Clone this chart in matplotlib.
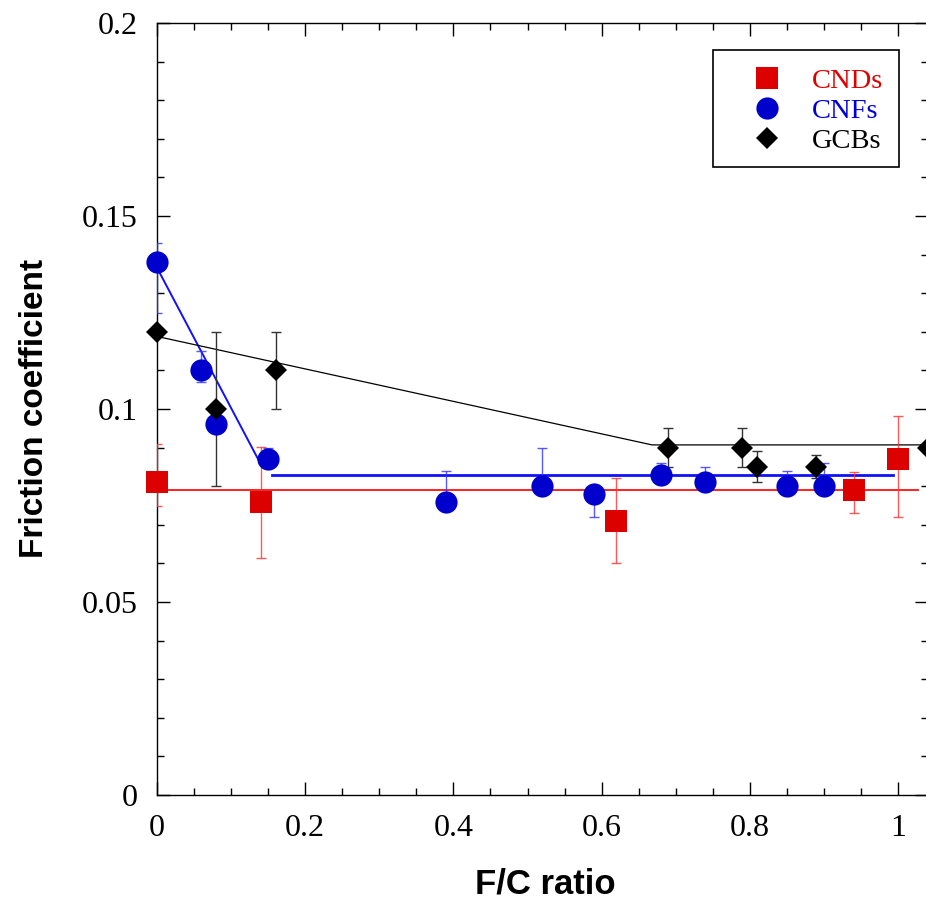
import matplotlib
matplotlib.use("Agg")
import matplotlib.pyplot as plt
from matplotlib.patches import Rectangle
from matplotlib.ticker import MultipleLocator, FuncFormatter

# --- data ---
cnd_x = [0.0, 0.14, 0.62, 0.94, 1.0]
cnd_y = [0.081, 0.076, 0.071, 0.079, 0.087]
cnd_lo = [0.006, 0.0145, 0.011, 0.006, 0.015]
cnd_hi = [0.010, 0.0142, 0.011, 0.0046, 0.0112]

cnf_x = [0.0, 0.06, 0.08, 0.15, 0.39, 0.52, 0.59, 0.68, 0.74, 0.85, 0.90]
cnf_y = [0.138, 0.110, 0.096, 0.087, 0.076, 0.080, 0.078, 0.083, 0.081, 0.080, 0.080]
cnf_lo = [0.013, 0.003, 0.0, 0.0, 0.0, 0.0, 0.006, 0.0, 0.0, 0.0, 0.0]
cnf_hi = [0.005, 0.005, 0.0, 0.003, 0.008, 0.010, 0.0, 0.003, 0.004, 0.004, 0.006]

gcb_x = [0.0, 0.08, 0.16, 0.69, 0.79, 0.81, 0.89, 1.04]
gcb_y = [0.120, 0.100, 0.110, 0.090, 0.090, 0.085, 0.085, 0.090]
gcb_err = [0.0, 0.020, 0.010, 0.005, 0.005, 0.004, 0.003, 0.0]

# fitted trend lines
cnd_fit_x = [0.0, 1.027]
cnd_fit_y = [0.079, 0.079]
cnf_fit1_x = [0.0, 0.137]
cnf_fit1_y = [0.1366, 0.0868]
cnf_fit2_x = [0.155, 0.993]
cnf_fit2_y = [0.0829, 0.0829]
gcb_fit_x = [0.0, 0.668, 1.04]
gcb_fit_y = [0.1188, 0.0907, 0.0907]

labels = ["CNDs", "CNFs", "GCBs"]

red = "#dd0000"
blue = "#0000cc"

W, H = 926, 901
fig = plt.figure(figsize=(W / 100, H / 100), dpi=100)
ax = fig.add_axes([157 / W, 106 / H, 1.04 * 741 / W, 772 / H])

# trend lines
ax.plot(cnd_fit_x, cnd_fit_y, color="#ff1010", lw=1.3, zorder=2)
ax.plot(cnf_fit1_x, cnf_fit1_y, color="#1010ff", lw=1.4, zorder=2)
ax.plot(cnf_fit2_x, cnf_fit2_y, color="#1010ff", lw=2.0, zorder=2)
ax.plot(gcb_fit_x, gcb_fit_y, color="black", lw=0.9, zorder=2)

# error bars (one-sided where the other half hides under the marker)
ax.errorbar(cnd_x, cnd_y, yerr=[cnd_lo, cnd_hi], fmt="none", ecolor="#ff3030",
            elinewidth=1.0, capsize=3.6, capthick=1.0, alpha=0.8, zorder=3)
ax.errorbar(cnf_x, cnf_y, yerr=[cnf_lo, cnf_hi], fmt="none", ecolor="#3030ff",
            elinewidth=1.0, capsize=3.6, capthick=1.0, alpha=0.8, zorder=3)
ax.errorbar(gcb_x, gcb_y, yerr=gcb_err, fmt="none", ecolor="#333333",
            elinewidth=1.0, capsize=3.6, capthick=1.0, zorder=3)

# markers (not clipped at the axis edge, like the original)
ax.plot(cnd_x, cnd_y, "s", color=red, ms=15.8, mew=0, ls="none", zorder=4, clip_on=False)
ax.plot(cnf_x, cnf_y, "o", color=blue, ms=16, mew=0, ls="none", zorder=4, clip_on=False)
ax.plot(gcb_x, gcb_y, "D", color="black", ms=11, mew=0, ls="none", zorder=5, clip_on=False)

ax.set_xlim(0, 1.04)
ax.set_ylim(0, 0.2)

fmt = FuncFormatter(lambda v, p: "%g" % round(v, 4))
ax.xaxis.set_major_locator(MultipleLocator(0.2))
ax.xaxis.set_minor_locator(MultipleLocator(0.05))
ax.yaxis.set_major_locator(MultipleLocator(0.05))
ax.yaxis.set_minor_locator(MultipleLocator(0.01))
ax.xaxis.set_major_formatter(fmt)
ax.yaxis.set_major_formatter(fmt)

ax.tick_params(which="both", direction="in", top=True, right=True, width=1.0)
ax.tick_params(which="major", length=9.5, pad=14, labelsize=23)
ax.tick_params(which="minor", length=5)
for lab in ax.get_xticklabels() + ax.get_yticklabels():
    lab.set_family("Liberation Serif")
for sp in ax.spines.values():
    sp.set_linewidth(1.0)

# axis titles
fig.text(545 / W, (H - 893) / H, "F/C ratio", ha="center", va="baseline",
         fontsize=25, fontweight="bold", family="Liberation Sans")
fig.text(43 / W, (H - 408) / H, "Friction coefficient", ha="center", va="baseline",
         rotation=90, rotation_mode="anchor",
         fontsize=24, fontweight="bold", family="Liberation Sans")

# legend box drawn by hand to match the tight row spacing
fig.add_artist(Rectangle((713 / W, (H - 167) / H), (899 - 713) / W, (167 - 50) / H,
                         transform=fig.transFigure, fill=False, lw=1.2, ec="black"))
rows = [78, 108, 138]
styles = [("s", red, 15.8, "#e00000"), ("o", blue, 16, "#0000dd"), ("D", "black", 11, "black")]
for (mk, c, ms, tc), lab, r in zip(styles, labels, rows):
    ax.plot([767 / W], [(H - r) / H], mk, color=c, ms=ms, mew=0,
            transform=fig.transFigure, clip_on=False)
    fig.text(812 / W, (H - r - 10) / H, lab, color=tc, fontsize=20.5,
             family="Liberation Serif", va="baseline", ha="left")

ax.set_xlim(0, 1.04)
ax.set_ylim(0, 0.2)

fig.savefig("out.png", dpi=100)
